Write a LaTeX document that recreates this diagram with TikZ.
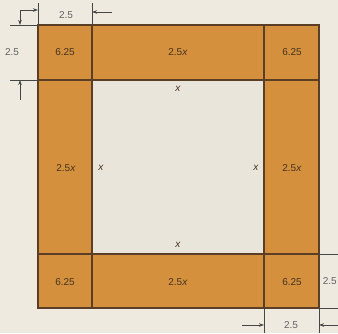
\documentclass[tikz,border=0pt]{standalone}
\usepackage{fontspec}
\setmainfont{Liberation Sans}
\usetikzlibrary{arrows.meta}
\definecolor{bg}{RGB}{238,234,224}
\definecolor{inner}{RGB}{233,229,218}
\definecolor{strip}{RGB}{212,144,60}
\definecolor{edge}{RGB}{90,62,38}
\definecolor{txt}{RGB}{70,52,35}
\definecolor{dimc}{RGB}{70,70,70}
\tikzset{
  lab/.style={font=\fontsize{10}{11}\selectfont, text=txt, inner sep=1pt},
  dimlab/.style={font=\fontsize{10}{11}\selectfont, text=dimc!85, inner sep=1pt},
  ext/.style={draw=dimc, line width=0.5pt},
  dimarrow/.style={draw=dimc, line width=0.7pt, -{Stealth[length=5pt,width=3.5pt]}},
  box/.style={draw=edge, line width=1.1pt},
}
\begin{document}
\begin{tikzpicture}[x=1pt,y=-1pt]
\useasboundingbox (0,0) rectangle (338,333);
\fill[bg] (0,0) rectangle (338,333);
% strips
\fill[strip] (38,25) rectangle (319,308);
\fill[inner] (92,80) rectangle (264,254);
% grid lines
\draw[box] (38,25) rectangle (319,308);
\draw[box] (92,80) rectangle (264,254);
\draw[box] (92,25) -- (92,80);
\draw[box] (264,25) -- (264,80);
\draw[box] (92,254) -- (92,308);
\draw[box] (264,254) -- (264,308);
\draw[box] (38,80) -- (92,80);
\draw[box] (264,80) -- (319,80);
\draw[box] (38,254) -- (92,254);
\draw[box] (264,254) -- (319,254);
% labels
\node[lab] (c1) at (65,52) {6.25};
\node[lab] (c2) at (292,52) {6.25};
\node[lab] (c3) at (65,282) {6.25};
\node[lab] (c4) at (292,282) {6.25};
\node[lab] (s1) at (178,52) {2.5\textit{x}};
\node[lab] (s2) at (178,282) {2.5\textit{x}};
\node[lab] (s3) at (66,168) {2.5\textit{x}};
\node[lab] (s4) at (292,168) {2.5\textit{x}};
\node[lab] (x1) at (178,89) {\textit{x}};
\node[lab] (x2) at (178,245) {\textit{x}};
\node[lab] (x3) at (101,168) {\textit{x}};
\node[lab] (x4) at (256,168) {\textit{x}};
% dimension: top
\draw[ext] (38,3) -- (38,25);
\draw[ext] (92,3) -- (92,25);
\coordinate (ta) at (20,10);
\coordinate (tb) at (38,10);
\coordinate (tc) at (112,12);
\coordinate (td) at (92,12);
\draw[dimarrow] (ta) -- (tb);
\draw[dimarrow] (tc) -- (td);
\node[dimlab] (d1) at (66,15) {2.5};
% dimension: left
\draw[ext] (10,25) -- (38,25);
\draw[ext] (10,80) -- (38,80);
\coordinate (la) at (20,25);
\coordinate (lb) at (20,100);
\coordinate (lc) at (20,80);
\draw[dimarrow] (ta) -- (la);
\draw[dimarrow] (lb) -- (lc);
\node[dimlab] (d2) at (12,52) {2.5};
% dimension: bottom
\draw[ext] (264,308) -- (264,333);
\draw[ext] (319,308) -- (319,333);
\coordinate (ba) at (242,325);
\coordinate (bb) at (264,325);
\coordinate (bc) at (338,325);
\coordinate (bd) at (319,325);
\draw[dimarrow] (ba) -- (bb);
\draw[dimarrow] (bc) -- (bd);
\node[dimlab] (d3) at (291,325) {2.5};
% dimension: right
\draw[ext] (319,254) -- (338,254);
\draw[ext] (319,308) -- (338,308);
\node[dimlab, anchor=east] (d4) at (338,281) {2.5};
\end{tikzpicture}
\end{document}
